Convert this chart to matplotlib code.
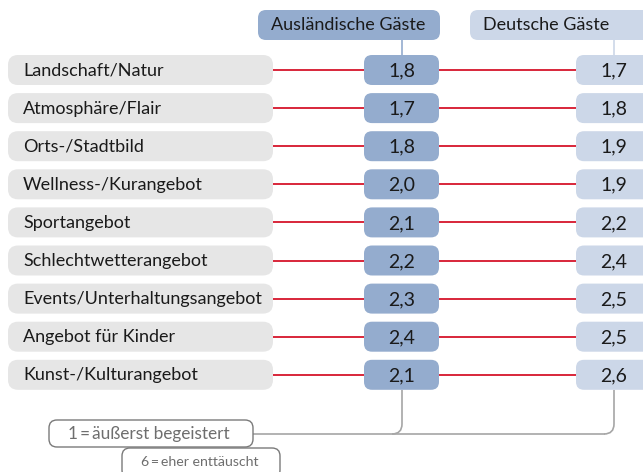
import matplotlib.pyplot as plt
from matplotlib.patches import FancyBboxPatch, PathPatch
from matplotlib.path import Path

# %%
categories = [
    "Landschaft/Natur",
    "Atmosphäre/Flair",
    "Orts-/Stadtbild",
    "Wellness-/Kurangebot",
    "Sportangebot",
    "Schlechtwetterangebot",
    "Events/Unterhaltungsangebot",
    "Angebot für Kinder",
    "Kunst-/Kulturangebot",
]
auslaendisch = [1.8, 1.7, 1.8, 2.0, 2.1, 2.2, 2.3, 2.4, 2.1]
deutsch = [1.7, 1.8, 1.9, 1.9, 2.2, 2.4, 2.5, 2.5, 2.6]
headers = ["Ausländische Gäste", "Deutsche Gäste"]
legend_lines = ["1\u2009=\u2009äußerst begeistert", "6\u2009=\u2009eher enttäuscht"]

# %%
plt.rcParams['font.family'] = ['Lato', 'DejaVu Sans']

fig = plt.figure(figsize=(6.43, 4.72), dpi=100)
ax = fig.add_axes([0, 0, 1, 1])
ax.set_xlim(0, 643)
ax.set_ylim(472, 0)
ax.axis('off')

c_label = '#e6e6e6'
c_aus = '#94acce'
c_de = '#ccd7e8'
c_red = '#d5152b'
c_grey = '#a6a6a6'
c_text = '#1a1a1a'

x_aus, x_de = 402, 614
row0, step, h = 70, 38.1, 30


def rbox(x0, y0, w, hh, color, ec='none', lw=0, r=8):
    ax.add_patch(FancyBboxPatch((x0, y0), w, hh,
                                boxstyle=f"round,pad=0,rounding_size={r}",
                                fc=color, ec=ec, lw=lw, zorder=2))


# header boxes
rbox(258, 10, 182, 30, c_aus)
ax.text(348, 25.5, headers[0], ha='center', va='center', fontsize=13, color=c_text)
rbox(470, 10, 190, 30, c_de)
ax.text(546, 25.5, headers[1], ha='center', va='center', fontsize=13, color=c_text)
ax.plot([x_aus, x_aus], [40, 56], color=c_aus, lw=1.2, zorder=1)
ax.plot([x_de, x_de], [40, 56], color=c_de, lw=1.2, zorder=1)

# rows
for i, (cat, a, d) in enumerate(zip(categories, auslaendisch, deutsch)):
    y = row0 + i * step
    rbox(8, y - h / 2, 265, h, c_label, r=10)
    ax.text(23, y + 0.5, cat, ha='left', va='center', fontsize=13, color=c_text)
    ax.plot([273, 364], [y, y], color=c_red, lw=1.3, zorder=1)
    ax.plot([439, 576], [y, y], color=c_red, lw=1.3, zorder=1)
    rbox(364, y - h / 2, 75, h, c_aus)
    ax.text(x_aus, y + 1, f"{a:.1f}".replace('.', ','), ha='center', va='center',
            fontsize=14, color=c_text)
    rbox(576, y - h / 2, 80, h, c_de)
    ax.text(x_de, y + 1, f"{d:.1f}".replace('.', ','), ha='center', va='center',
            fontsize=14, color=c_text)

# bottom connectors
y_last = row0 + (len(categories) - 1) * step + h / 2
y_line, r = 434, 10
for xv in (x_aus, x_de):
    verts = [(xv, y_last), (xv, y_line - r), (xv, y_line), (xv - r, y_line)]
    codes = [Path.MOVETO, Path.LINETO, Path.CURVE3, Path.CURVE3]
    ax.add_patch(PathPatch(Path(verts, codes), fc='none', ec=c_grey, lw=1.2, zorder=1))
ax.plot([253, x_de - r], [y_line, y_line], color=c_grey, lw=1.2, zorder=1)

# legend boxes
rbox(49, 420, 204, 27, 'white', ec='#7a7a7a', lw=1.0, r=8)
ax.text(149, 434, legend_lines[0], ha='center', va='center', fontsize=12.4, color='#6e6e6e')
rbox(122, 448, 158, 30, 'white', ec='#7a7a7a', lw=1.0, r=8)
ax.text(200, 461.5, legend_lines[1], ha='center', va='center', fontsize=10.2, color='#6e6e6e')

plt.savefig('out.png', dpi=100)
